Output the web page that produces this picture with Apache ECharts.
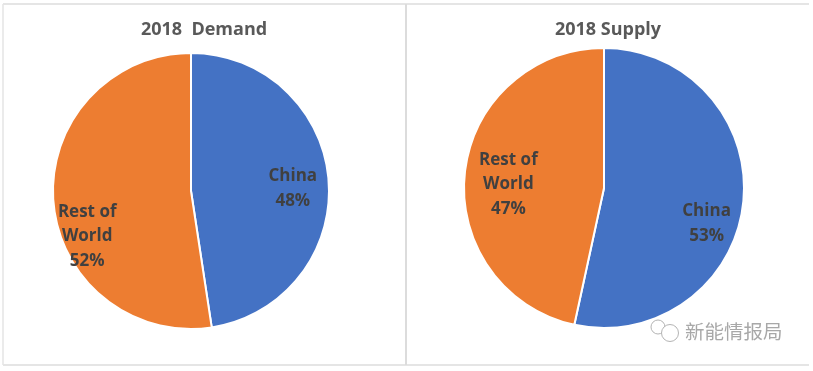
<!DOCTYPE html>
<html><head><meta charset="utf-8">
<style>html,body{margin:0;padding:0;background:#fff}#c{width:813px;height:371px}</style>
<script src="https://cdn.jsdelivr.net/npm/echarts@6/dist/echarts.min.js"></script></head>
<body><div id="c"></div>
<script>
var categories=['China','Rest of\nWorld'];
var demandValues=[47.6,52.4];
var supplyValues=[53.4,46.6];
var demandTitle='2018  Demand';
var supplyTitle='2018 Supply';
var watermark='新能情报局';
var colors=['#4472C4','#ED7D31'];
var chart=echarts.init(document.getElementById('c'),null,{renderer:'canvas'});
function mk(vals,offs){return categories.map(function(n,i){return {name:n,value:vals[i],itemStyle:{color:colors[i]},label:{offset:offs[i]}};});}
function pie(center,radius,vals,offs){return {type:'pie',center:center,radius:radius,startAngle:90,clockwise:true,silent:true,
 data:mk(vals,offs),itemStyle:{borderColor:'#fff',borderWidth:2},
 label:{position:'inside',formatter:function(p){return p.name+'\n'+Math.round(p.value)+'%';},color:'#404040',fontFamily:'Open Sans',fontWeight:'bold',fontSize:17,lineHeight:24.5},labelLine:{show:false}};}
function ln(a,b,c,d,col){return {type:'line',shape:{x1:a,y1:b,x2:c,y2:d},style:{stroke:col,lineWidth:1.5}};}
var wm='#b4b4b4';
chart.setOption({animation:false,backgroundColor:'#fff',
 title:[{text:demandTitle,left:199,top:16,textAlign:'center',textStyle:{fontFamily:'Open Sans',fontSize:18,fontWeight:'bold',color:'#595959'}},
 {text:supplyTitle,left:603,top:16,textAlign:'center',textStyle:{fontFamily:'Open Sans',fontSize:18,fontWeight:'bold',color:'#595959'}},
 {text:watermark,left:680,top:317,textStyle:{fontFamily:'Noto Sans CJK SC',fontSize:19.5,fontWeight:'normal',color:'#a8a8a8'}}],
 graphic:[ln(406,4,406,365,'#d0d0d0'),ln(3,4,809,4,'#dcdcdc'),ln(3,365,809,365,'#dcdcdc'),ln(3,4,3,365,'#e4e4e4'),
 {type:'circle',shape:{cx:658,cy:327,r:7},style:{fill:'none',stroke:wm,lineWidth:1}},
 {type:'circle',shape:{cx:670,cy:333,r:8.5},style:{fill:'#fff',stroke:wm,lineWidth:1}}],
 series:[pie([191,191],138,demandValues,[[30,3],[-32,40]]),pie([604,188],140,supplyValues,[[30,28],[-23,4]])]});
</script></body></html>
